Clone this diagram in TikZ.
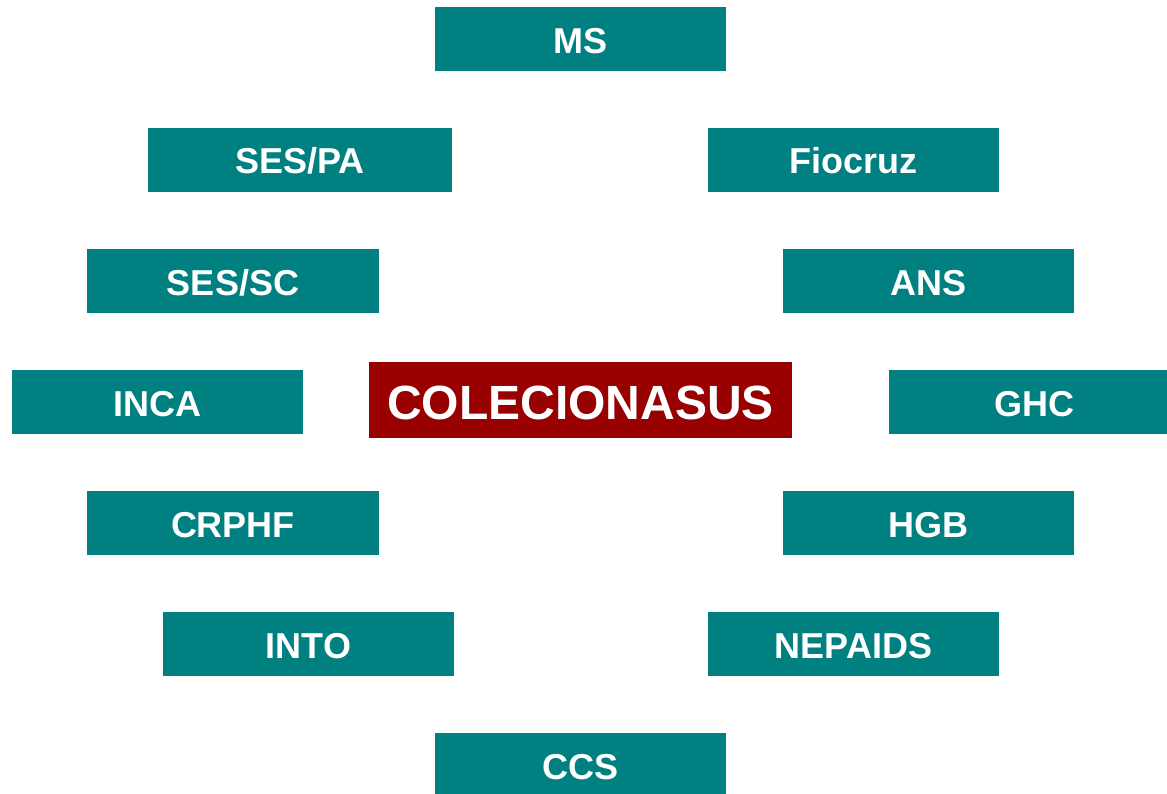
\documentclass[tikz,border=0pt]{standalone}
\usepackage{fontspec}
\setmainfont{Liberation Sans}
\definecolor{tealbox}{HTML}{008080}
\definecolor{redbox}{HTML}{990000}
\begin{document}
\begin{tikzpicture}[x=1pt,y=-1pt,
  orgbox/.style={fill=tealbox, draw=none, text=white, inner sep=0pt,
    minimum width=291pt, minimum height=64pt,
    font=\fontsize{36}{40}\selectfont\bfseries, text height=28pt, text depth=0pt},
  hubbox/.style={fill=redbox, draw=none, text=white, inner sep=0pt,
    minimum width=423pt, minimum height=76pt,
    font=\fontsize{48}{52}\selectfont\bfseries, text height=39pt, text depth=0pt}]
\useasboundingbox (0,0) rectangle (1167,794);
\node[orgbox] (ms) at (580.5,39.5) {MS};
\node[orgbox, minimum width=304pt] (sespa) at (300,160) {SES/PA};
\node[orgbox] (fiocruz) at (853.5,160) {Fiocruz};
\node[orgbox, minimum width=292pt] (sessc) at (233,281) {SES/SC};
\node[orgbox] (ans) at (928.5,281) {ANS};
\node[orgbox] (inca) at (157.5,402) {INCA};
\node[orgbox] (ghc) at (1034.5,402) {GHC};
\node[orgbox, minimum width=292pt] (crphf) at (233,523) {CRPHF};
\node[orgbox] (hgb) at (928.5,523) {HGB};
\node[orgbox] (into) at (308.5,644) {INTO};
\node[orgbox] (nepaids) at (853.5,644) {NEPAIDS};
\node[orgbox] (ccs) at (580.5,765) {CCS};
\node[hubbox] (hub) at (580.5,400) {COLECIONASUS};
\end{tikzpicture}
\end{document}
